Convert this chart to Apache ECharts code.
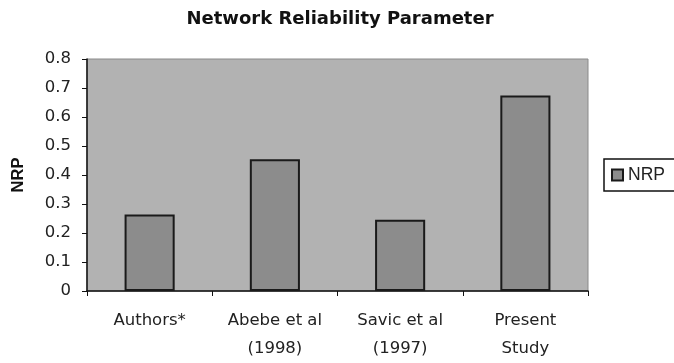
<!DOCTYPE html>
<html><head><meta charset="utf-8">
<script src="https://cdn.jsdelivr.net/npm/echarts@6/dist/echarts.min.js"></script>
<style>html,body{margin:0;padding:0;background:#fff}#c{width:674px;height:363px}</style>
</head><body><div id="c"></div>
<script>
const categories = ["Authors*", "Abebe et al\n(1998)", "Savic et al\n(1997)", "Present\nStudy"];
const nrpValues = [0.264, 0.454, 0.246, 0.674];
const yTicks = [0, 0.1, 0.2, 0.3, 0.4, 0.5, 0.6, 0.7, 0.8];

const chart = echarts.init(document.getElementById('c'));
chart.setOption({
  animation: false,
  title: {
    text: 'Network Reliability Parameter',
    left: 335, top: 5, textAlign: 'center',
    textStyle: {fontFamily: 'DejaVu Sans', fontSize: 18, fontWeight: 'bold', color: '#111'}
  },
  legend: {
    data: [{name: 'NRP', icon: 'rect'}], left: 604, top: 159, orient: 'vertical',
    borderColor: '#111', borderWidth: 1.5, borderRadius: 0,
    padding: [7, 40, 7, 7], itemWidth: 11, itemHeight: 11, itemGap: 4,
    textStyle: {fontFamily: 'Liberation Sans', fontSize: 17.5, color: '#222'}
  },
  grid: {
    left: 87, right: 86, top: 59, bottom: 72,
    show: true, backgroundColor: '#b2b2b2', borderColor: '#8a8a8a', borderWidth: 1
  },
  xAxis: {
    type: 'category', data: categories,
    axisLine: {lineStyle: {color: '#111', width: 1.5}},
    axisTick: {show: true, length: 5, lineStyle: {color: '#111'}},
    axisLabel: {fontFamily: 'DejaVu Sans', fontSize: 16.5, color: '#222', lineHeight: 28, margin: 16}
  },
  yAxis: {
    type: 'value', min: 0, max: 0.8, interval: 0.1,
    name: 'NRP', nameLocation: 'middle', nameGap: 60, nameRotate: 90,
    nameTextStyle: {fontFamily: 'Liberation Sans', fontSize: 16.5, fontWeight: 'bold', color: '#111'},
    axisLine: {show: true, lineStyle: {color: '#111', width: 1.5}},
    axisTick: {show: true, length: 5, lineStyle: {color: '#111'}},
    splitLine: {show: false},
    axisLabel: {fontFamily: 'DejaVu Sans', fontSize: 16.5, color: '#222', margin: 16,
      formatter: v => { const t = yTicks.find(x => Math.abs(x - v) < 1e-9); return t === undefined ? '' : String(t); }}
  },
  series: [{
    name: 'NRP', type: 'bar', data: nrpValues, barWidth: '40%',
    itemStyle: {color: '#8c8c8c', borderColor: '#1a1a1a', borderWidth: 2}
  }]
});
</script></body></html>
